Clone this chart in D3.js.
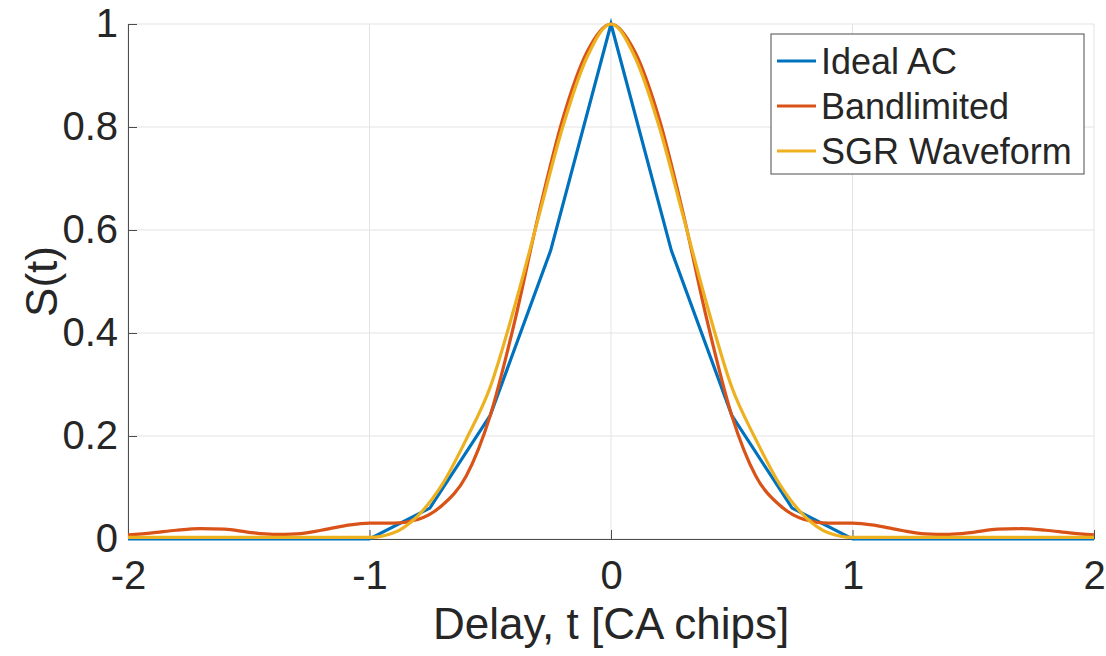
<!DOCTYPE html>
<html>
<head>
<meta charset="utf-8">
<script src="https://cdn.jsdelivr.net/npm/d3@7"></script>
<style>
  body { margin: 0; background: #fff; }
  text { font-family: "Liberation Sans", Arial, Helvetica, sans-serif; fill: #262626; }
</style>
</head>
<body>
<svg width="1106" height="656"></svg>
<script>
// ideal autocorrelation (piecewise linear)
const tIdeal = [-2, -1, -0.75, -0.5, -0.25, 0, 0.25, 0.5, 0.75, 1, 2];
const sIdeal = [0, 0, 0.06, 0.24, 0.56, 1, 0.56, 0.24, 0.06, 0, 0];

// bandlimited and SGR curves, sampled every 0.1 chip
const tSmooth = [-2, -1.9, -1.8, -1.7, -1.6, -1.5, -1.4, -1.3, -1.2, -1.1, -1, -0.9, -0.8, -0.7, -0.6, -0.5, -0.4, -0.3, -0.2, -0.1,
  0, 0.1, 0.2, 0.3, 0.4, 0.5, 0.6, 0.7, 0.8, 0.9, 1, 1.1, 1.2, 1.3, 1.4, 1.5, 1.6, 1.7, 1.8, 1.9, 2];
const sBand = [0.008, 0.012, 0.017, 0.020, 0.019, 0.013, 0.009, 0.010, 0.017, 0.026, 0.031, 0.031, 0.038, 0.065, 0.122, 0.24, 0.42, 0.63, 0.815, 0.945,
  1, 0.945, 0.815, 0.63, 0.42, 0.24, 0.122, 0.065, 0.038, 0.031, 0.031, 0.026, 0.017, 0.010, 0.009, 0.013, 0.019, 0.020, 0.017, 0.012, 0.008];
const sSgr = [0.003, 0.003, 0.003, 0.003, 0.003, 0.003, 0.003, 0.003, 0.003, 0.003, 0.003, 0.012, 0.045, 0.105, 0.193, 0.295, 0.45, 0.625, 0.80, 0.935,
  1, 0.935, 0.80, 0.625, 0.45, 0.295, 0.193, 0.105, 0.045, 0.012, 0.003, 0.003, 0.003, 0.003, 0.003, 0.003, 0.003, 0.003, 0.003, 0.003, 0.003];

const seriesNames = ["Ideal AC", "Bandlimited", "SGR Waveform"];
const colors = ["#0072BD", "#D95319", "#EDB120"];

const xTicks = [-2, -1, 0, 1, 2];
const xTickLabels = ["-2", "-1", "0", "1", "2"];
const yTicks = [0, 0.2, 0.4, 0.6, 0.8, 1];
const yTickLabels = ["0", "0.2", "0.4", "0.6", "0.8", "1"];

let width = 1106
let height = 656
const margin = {top: 24, right: 12, bottom: 117, left: 128};

const svg = d3.select("svg");

const x = d3.scaleLinear().domain([-2, 2]).range([margin.left, width - margin.right]);
const y = d3.scaleLinear().domain([0, 1]).range([height - margin.bottom, margin.top]);

// grid
const grid = svg.append("g").attr("stroke", "#e3e3e3").attr("stroke-width", 1);
grid.selectAll("line.v").data(xTicks).join("line")
    .attr("x1", d => x(d)).attr("x2", d => x(d))
    .attr("y1", y(0)).attr("y2", y(1));
grid.selectAll("line.h").data(yTicks).join("line")
    .attr("x1", x(-2)).attr("x2", x(2))
    .attr("y1", d => y(d)).attr("y2", d => y(d));

// lines
const lineLin = d3.line().x(d => x(d[0])).y(d => y(d[1]));
const lineSmooth = d3.line().x(d => x(d[0])).y(d => y(d[1])).curve(d3.curveMonotoneX);

const series = [
    {data: d3.zip(tIdeal, sIdeal), gen: lineLin},
    {data: d3.zip(tSmooth, sBand), gen: lineSmooth},
    {data: d3.zip(tSmooth, sSgr), gen: lineSmooth}
];

// axes
const xAxis = svg.append("g")
    .attr("transform", `translate(0,${y(0)})`)
    .call(d3.axisBottom(x).tickValues(xTicks).tickFormat((d, i) => xTickLabels[i])
        .tickSizeInner(-9).tickSizeOuter(0).tickPadding(21));
const yAxis = svg.append("g")
    .attr("transform", `translate(${x(-2)},0)`)
    .call(d3.axisLeft(y).tickValues(yTicks).tickFormat((d, i) => yTickLabels[i])
        .tickSizeInner(-9).tickSizeOuter(0).tickPadding(10));

[xAxis, yAxis].forEach(a => {
    a.select(".domain").attr("stroke", "#4d4d4d").attr("stroke-width", 1);
    a.selectAll(".tick line").attr("stroke", "#4d4d4d");
    a.selectAll(".tick text").attr("font-size", 40).attr("fill", "#262626")
        .style("font-family", '"Liberation Sans", Arial, sans-serif');
});
xAxis.selectAll(".tick text").attr("dy", "0.72em");

svg.append("g").selectAll("path").data(series).join("path")
    .attr("fill", "none")
    .attr("stroke", (d, i) => colors[i])
    .attr("stroke-width", 3.2)
    .attr("d", d => d.gen(d.data));

// labels
svg.append("text")
    .attr("x", (x(-2) + x(2)) / 2).attr("y", 639)
    .attr("text-anchor", "middle").attr("font-size", 44)
    .text("Delay, t [CA chips]");
svg.append("text")
    .attr("transform", `translate(57,${(y(0) + y(1)) / 2}) rotate(-90)`)
    .attr("text-anchor", "middle").attr("font-size", 44)
    .text("S(t)");

// legend
const legend = svg.append("g");
legend.append("rect")
    .attr("x", 771).attr("y", 34).attr("width", 313).attr("height", 140)
    .attr("fill", "#fff").attr("stroke", "#4d4d4d").attr("stroke-width", 1);
const item = legend.selectAll("g").data(seriesNames).join("g")
    .attr("transform", (d, i) => `translate(777,${61 + i * 45})`);
item.append("line")
    .attr("x1", 0).attr("x2", 39)
    .attr("stroke", (d, i) => colors[i]).attr("stroke-width", 3.2);
item.append("text")
    .attr("x", 44).attr("dy", "0.35em")
    .attr("font-size", 36).attr("fill", "#000")
    .text(d => d);
</script>
</body>
</html>
